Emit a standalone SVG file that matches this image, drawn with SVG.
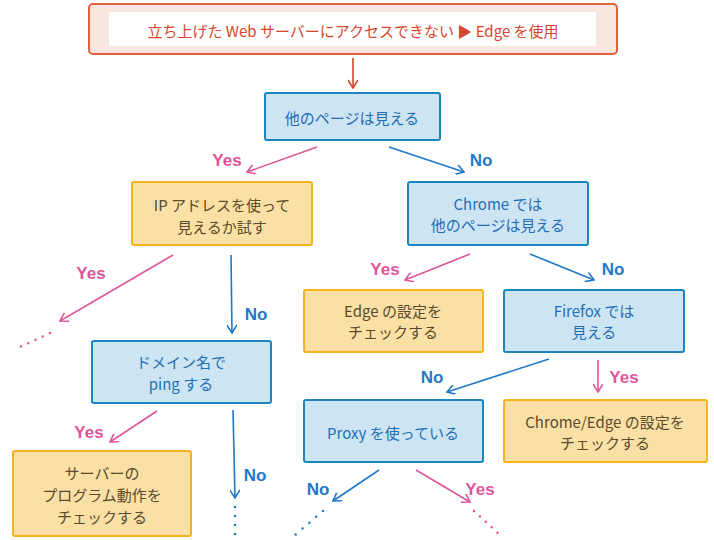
<svg xmlns="http://www.w3.org/2000/svg" width="714" height="540" viewBox="0 0 714 540">
<defs>
<style>
text{font-family:"Noto Sans CJK JP","Noto Sans",sans-serif;font-size:15px;text-anchor:middle;dominant-baseline:central}
.b rect{fill:#cde4f3;stroke:#1a86c0;stroke-width:2}
.b text{fill:#1f6fb5}
.o rect{fill:#fae0a5;stroke:#f5b21a;stroke-width:2}
.o text{fill:#5a4a2a}
.pk{stroke:#e0559a;stroke-width:1.6;fill:none}
.bl{stroke:#1f78c8;stroke-width:1.6;fill:none}
.pd{stroke:#e0559a;stroke-width:2.5;stroke-linecap:round;stroke-dasharray:0 8;fill:none}
.bd{stroke:#1f78c8;stroke-width:2.5;stroke-linecap:round;stroke-dasharray:0 9;fill:none}
.ly{fill:#e0559a;font-size:17px;font-weight:bold;font-family:"Liberation Sans",sans-serif}
.ln{fill:#1f78c8;font-size:17px;font-weight:bold;font-family:"Liberation Sans",sans-serif}
</style>
<marker id="ap" viewBox="0 0 10 10" refX="9" refY="5" markerWidth="10" markerHeight="10" orient="auto" markerUnits="userSpaceOnUse"><path d="M1,0 L9,5 L1,10" fill="none" stroke="#e0559a" stroke-width="1.6"/></marker>
<marker id="ab" viewBox="0 0 10 10" refX="9" refY="5" markerWidth="10" markerHeight="10" orient="auto" markerUnits="userSpaceOnUse"><path d="M1,0 L9,5 L1,10" fill="none" stroke="#1f78c8" stroke-width="1.6"/></marker>
<marker id="ar" viewBox="0 0 10 10" refX="9" refY="5" markerWidth="10" markerHeight="10" orient="auto" markerUnits="userSpaceOnUse"><path d="M1,0 L9,5 L1,10" fill="none" stroke="#d9452b" stroke-width="1.6"/></marker>
</defs>
<rect width="714" height="540" fill="#fff"/>
<g id="top">
<rect x="89" y="4" width="528" height="50" rx="4" fill="#f9e6df" stroke="#e06040" stroke-width="2"/>
<rect x="109" y="12" width="487" height="34" fill="#fff"/>
<text x="353" y="30" fill="#d9452b" font-size="16">立ち上げた Web サーバーにアクセスできない ▶ Edge を使用</text>
</g>
<g id="n1" class="b"><rect x="265" y="93" width="175" height="47" rx="2"/><text x="352" y="117">他のページは見える</text></g>
<g id="n2" class="o"><rect x="132" y="182" width="180" height="63" rx="2"/><text x="222" y="204">IP アドレスを使って</text><text x="222" y="226">見えるか試す</text></g>
<g id="n3" class="b"><rect x="408" y="182" width="180" height="63" rx="2"/><text x="498" y="203">Chrome では</text><text x="498" y="224">他のページは見える</text></g>
<g id="n4" class="b"><rect x="92" y="341" width="179" height="62" rx="2"/><text x="181" y="361">ドメイン名で</text><text x="181" y="383">ping する</text></g>
<g id="n5" class="o"><rect x="13" y="451" width="178" height="85" rx="2"/><text x="102" y="472">サーバーの</text><text x="102" y="494">プログラム動作を</text><text x="102" y="516">チェックする</text></g>
<g id="n6" class="o"><rect x="304" y="290" width="179" height="62" rx="2"/><text x="393" y="310">Edge の設定を</text><text x="393" y="331">チェックする</text></g>
<g id="n7" class="b"><rect x="504" y="290" width="180" height="62" rx="2"/><text x="594" y="310">Firefox では</text><text x="594" y="331">見える</text></g>
<g id="n8" class="b"><rect x="304" y="400" width="179" height="62" rx="2"/><text x="393" y="432">Proxy を使っている</text></g>
<g id="n9" class="o"><rect x="504" y="400" width="203" height="62" rx="2"/><text x="605" y="421">Chrome/Edge の設定を</text><text x="605" y="442">チェックする</text></g>
<g id="connectors">
<line x1="353" y1="58" x2="353" y2="88" stroke="#d9452b" stroke-width="1.6" marker-end="url(#ar)"/>
<line class="pk" x1="317" y1="147" x2="247" y2="172" marker-end="url(#ap)"/>
<line class="bl" x1="389" y1="147" x2="464" y2="172" marker-end="url(#ab)"/>
<line class="pk" x1="173" y1="255" x2="60" y2="321" marker-end="url(#ap)"/>
<line class="pd" x1="50" y1="333" x2="18" y2="348"/>
<line class="bl" x1="231" y1="255" x2="232" y2="333" marker-end="url(#ab)"/>
<line class="pk" x1="157" y1="411" x2="110" y2="442" marker-end="url(#ap)"/>
<line class="bl" x1="233" y1="410" x2="235" y2="498" marker-end="url(#ab)"/>
<line class="bd" x1="235" y1="507" x2="235" y2="535"/>
<line class="pk" x1="470" y1="254" x2="405" y2="280" marker-end="url(#ap)"/>
<line class="bl" x1="530" y1="254" x2="594" y2="280" marker-end="url(#ab)"/>
<line class="bl" x1="549" y1="359" x2="447" y2="392" marker-end="url(#ab)"/>
<line class="pk" x1="598" y1="360" x2="598" y2="392" marker-end="url(#ap)"/>
<line class="bl" x1="379" y1="470" x2="333" y2="501" marker-end="url(#ab)"/>
<line class="bd" x1="323" y1="511" x2="295" y2="535"/>
<line class="pk" x1="416" y1="470" x2="470" y2="502" marker-end="url(#ap)"/>
<line class="pd" x1="474" y1="511" x2="500" y2="535"/>
</g>
<g id="labels">
<text class="ly" x="227" y="160">Yes</text>
<text class="ln" x="481" y="160">No</text>
<text class="ly" x="91" y="273">Yes</text>
<text class="ln" x="256" y="314">No</text>
<text class="ly" x="89" y="432">Yes</text>
<text class="ln" x="255" y="475">No</text>
<text class="ly" x="385" y="269">Yes</text>
<text class="ln" x="613" y="269">No</text>
<text class="ln" x="432" y="377">No</text>
<text class="ly" x="624" y="377">Yes</text>
<text class="ln" x="318" y="489">No</text>
<text class="ly" x="480" y="489">Yes</text>
</g>
</svg>
